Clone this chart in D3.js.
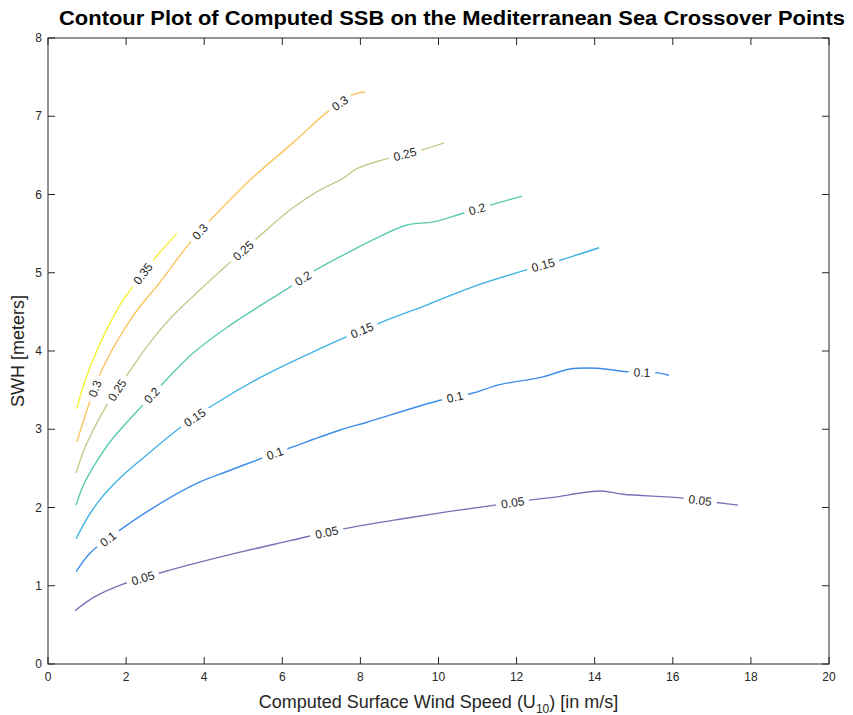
<!DOCTYPE html>
<html>
<head>
<meta charset="utf-8">
<script src="https://cdn.jsdelivr.net/npm/d3@7"></script>
<style>
  body { margin: 0; background: #fff; }
  svg { display: block; font-family: "Liberation Sans", Arial, Helvetica, sans-serif; }
</style>
</head>
<body>
<svg id="chart" width="853" height="715"></svg>
<script>
// contour levels and their traced lines (x = wind speed m/s, y = SWH m)
const levels = [0.05, 0.1, 0.15, 0.2, 0.25, 0.3, 0.35];
const levelColors = ["#7b70b7", "#3d8deb", "#3eb2e4", "#5ccab2", "#c3cb8e", "#fcc45f", "#f4f232"];

const line005 = [[0.69,0.68],[1.2,0.86],[1.92,1.02],[2.84,1.16],[3.64,1.27],[4.92,1.43],[5.8,1.53],[6.66,1.63],[7.6,1.73],[9.0,1.85],[10.29,1.95],[11.45,2.03],[12.42,2.10],[12.93,2.13],[14.16,2.21],[14.72,2.17],[16.26,2.12],[17.18,2.06],[17.67,2.03]];
const line010 = [[0.72,1.18],[1.08,1.42],[1.84,1.71],[2.61,1.97],[3.82,2.31],[4.58,2.46],[5.48,2.63],[6.3,2.78],[7.48,2.99],[8.17,3.09],[10.04,3.37],[10.86,3.46],[11.57,3.57],[12.68,3.67],[13.37,3.77],[14.06,3.78],[14.9,3.73],[15.6,3.72],[15.9,3.69]];
const line015 = [[0.72,1.60],[1.0,1.86],[1.33,2.10],[1.85,2.38],[2.43,2.63],[3.38,3.02],[4.2,3.30],[5.43,3.66],[6.79,3.99],[7.68,4.19],[8.55,4.37],[9.71,4.59],[10.88,4.82],[12.27,5.04],[13.11,5.16],[14.11,5.32]];
const line020 = [[0.72,2.03],[0.9,2.28],[1.2,2.55],[1.59,2.84],[2.41,3.30],[2.95,3.59],[3.71,3.97],[4.58,4.30],[6.2,4.82],[6.84,5.03],[7.73,5.27],[8.32,5.42],[9.19,5.61],[9.86,5.65],[10.63,5.76],[11.37,5.87],[12.14,5.98]];
const line025 = [[0.72,2.44],[0.95,2.77],[1.4,3.22],[2.02,3.69],[2.6,4.1],[3.12,4.41],[4.15,4.90],[5.35,5.44],[6.27,5.83],[6.97,6.06],[7.53,6.2],[7.91,6.33],[8.55,6.44],[9.58,6.57],[10.14,6.66]];
const line030 = [[0.74,2.84],[1.0,3.25],[1.38,3.76],[2.18,4.45],[2.87,4.88],[3.58,5.35],[4.15,5.67],[4.74,5.97],[5.25,6.22],[6.27,6.66],[7.14,7.05],[7.78,7.27],[8.12,7.31]];
const line035 = [[0.74,3.26],[0.87,3.50],[1.13,3.86],[1.41,4.18],[1.92,4.65],[2.05,4.74],[2.66,5.14],[3.30,5.50]];
const contourLines = [line005, line010, line015, line020, line025, line030, line035];

// where the inline labels sit (wind speed along each line)
const labelsAt = [
  [2.43, 7.14, 11.9, 16.7],
  [1.54, 5.81, 10.42, 15.21],
  [3.76, 8.04, 12.68],
  [2.66, 6.53, 10.99],
  [1.77, 5.0, 9.14],
  [1.2, 3.89, 7.48],
  [2.43]
];

const xTicks = [0, 2, 4, 6, 8, 10, 12, 14, 16, 18, 20];
const yTicks = [0, 1, 2, 3, 4, 5, 6, 7, 8];

const svg = d3.select("#chart");
const margin = { top: 38, right: 24, bottom: 51, left: 48 };
const W = 853, H = 715;
const axisColor = "#262626";

const x = d3.scaleLinear().domain([0, 20]).range([margin.left, W - margin.right]);
const y = d3.scaleLinear().domain([0, 8]).range([H - margin.bottom, margin.top]);

const defs = svg.append("defs");
const plot = svg.append("g");
const labelG = svg.append("g");

const line = d3.line().x(d => x(d[0])).y(d => y(d[1])).curve(d3.curveCatmullRom.alpha(0.5));

// interpolate a point on a polyline at a given x value
function pointAt(pts, xv) {
  for (let i = 0; i < pts.length - 1; i++) {
    const a = pts[i], b = pts[i + 1];
    if (xv >= a[0] && xv <= b[0]) {
      const t = (xv - a[0]) / (b[0] - a[0]);
      return [a[0] + t * (b[0] - a[0]), a[1] + t * (b[1] - a[1])];
    }
  }
  return pts[pts.length - 1];
}

contourLines.forEach((pts, i) => {
  const mask = defs.append("mask")
    .attr("id", "gap" + i)
    .attr("maskUnits", "userSpaceOnUse")
    .attr("x", 0).attr("y", 0).attr("width", W).attr("height", H);
  mask.append("rect").attr("width", W).attr("height", H).attr("fill", "#fff");

  plot.append("path")
    .attr("d", line(pts))
    .attr("fill", "none")
    .attr("stroke", levelColors[i])
    .attr("stroke-width", 1.4)
    .attr("mask", `url(#gap${i})`);

  labelsAt[i].forEach(xv => {
    const p = pointAt(pts, xv);
    const p0 = pointAt(pts, Math.max(pts[0][0], xv - 0.15));
    const p1 = pointAt(pts, Math.min(pts[pts.length - 1][0], xv + 0.15));
    const px = x(p[0]), py = y(p[1]);
    let ang = Math.atan2(y(p1[1]) - y(p0[1]), x(p1[0]) - x(p0[0])) * 180 / Math.PI;
    if (ang > 90) ang -= 180;
    if (ang < -90) ang += 180;

    const t = labelG.append("text")
      .attr("transform", `translate(${px},${py}) rotate(${ang})`)
      .attr("text-anchor", "middle")
      .attr("dy", "0.35em")
      .attr("font-size", "12px")
      .attr("fill", axisColor)
      .text(String(levels[i]));
    const w = t.node().getComputedTextLength() + 10;
    mask.append("rect")
      .attr("x", -w / 2).attr("y", -7)
      .attr("width", w).attr("height", 14)
      .attr("fill", "#000")
      .attr("transform", `translate(${px},${py}) rotate(${ang})`);
  });
});

// axes box with inward ticks on all four sides
const ax = svg.append("g").attr("stroke", axisColor).attr("fill", "none");
ax.append("rect")
  .attr("x", x(0)).attr("y", y(8))
  .attr("width", x(20) - x(0)).attr("height", y(0) - y(8))
  .attr("stroke-width", 1);
const tl = 7;
xTicks.forEach(v => {
  ax.append("line").attr("x1", x(v)).attr("x2", x(v)).attr("y1", y(0)).attr("y2", y(0) - tl);
  ax.append("line").attr("x1", x(v)).attr("x2", x(v)).attr("y1", y(8)).attr("y2", y(8) + tl);
});
yTicks.forEach(v => {
  ax.append("line").attr("x1", x(0)).attr("x2", x(0) + tl).attr("y1", y(v)).attr("y2", y(v));
  ax.append("line").attr("x1", x(20)).attr("x2", x(20) - tl).attr("y1", y(v)).attr("y2", y(v));
});

svg.append("g").selectAll("text").data(xTicks).enter().append("text")
  .attr("x", d => x(d)).attr("y", y(0) + 17)
  .attr("text-anchor", "middle")
  .attr("font-size", "12px").attr("fill", axisColor)
  .text(d => d);
svg.append("g").selectAll("text").data(yTicks).enter().append("text")
  .attr("x", x(0) - 6).attr("y", d => y(d)).attr("dy", "0.35em")
  .attr("text-anchor", "end")
  .attr("font-size", "12px").attr("fill", axisColor)
  .text(d => d);

// axis titles
const xl = svg.append("text")
  .attr("x", (x(0) + x(20)) / 2).attr("y", 708)
  .attr("text-anchor", "middle")
  .attr("font-size", "18px").attr("fill", axisColor);
xl.append("tspan").text("Computed Surface Wind Speed (U");
xl.append("tspan").attr("font-size", "12px").attr("dy", 5).text("10");
xl.append("tspan").attr("dy", -5).text(") [in m/s]");

svg.append("text")
  .attr("transform", `translate(24,${(y(0) + y(8)) / 2}) rotate(-90)`)
  .attr("text-anchor", "middle")
  .attr("font-size", "18px").attr("fill", axisColor)
  .text("SWH [meters]");

svg.append("text")
  .attr("x", 452).attr("y", 25)
  .attr("text-anchor", "middle")
  .attr("font-size", "20px").attr("font-weight", "bold").attr("fill", "#000")
  .attr("textLength", 786).attr("lengthAdjust", "spacingAndGlyphs")
  .text("Contour Plot of Computed SSB on the Mediterranean Sea Crossover Points");
</script>
</body>
</html>
